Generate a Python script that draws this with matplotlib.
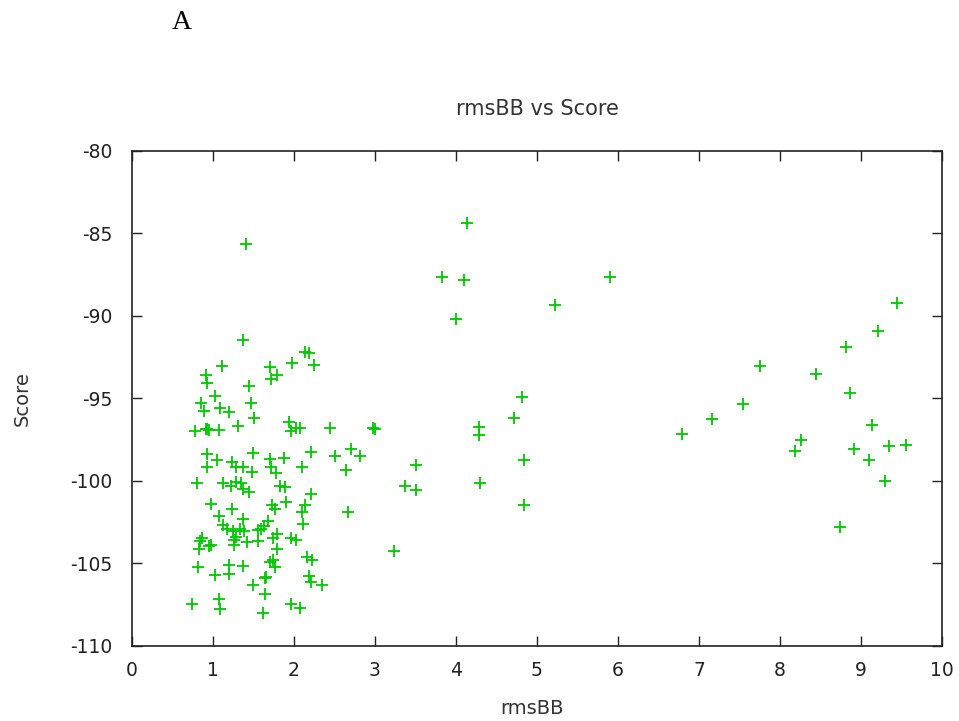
import matplotlib
matplotlib.use('Agg')
import matplotlib.pyplot as plt

# rmsBB vs Score
rms_right = [5.90, 9.44, 9.21, 8.81, 7.75, 8.45, 8.87, 7.54, 7.16, 9.14,
             6.79, 8.26, 8.19, 8.91, 9.35, 9.56, 9.10, 9.29, 8.74]
score_right = [-87.66, -89.24, -90.90, -91.91, -93.05, -93.55, -94.70, -95.37, -96.28, -96.61,
               -97.17, -97.54, -98.19, -98.08, -97.92, -97.84, -98.77, -100.01, -102.83]

rms_mid = [4.13, 3.83, 4.10, 5.22, 4.00, 4.82, 4.72, 2.98, 3.00, 4.28,
           4.28, 2.71, 2.82, 4.84, 3.51, 3.37, 3.51, 4.30, 4.84, 3.24]
score_mid = [-84.35, -87.66, -87.83, -89.33, -90.21, -94.95, -96.20, -96.79, -96.84, -96.77,
             -97.21, -98.10, -98.51, -98.75, -99.04, -100.33, -100.59, -100.16, -101.50, -104.25]

rms_left = [1.41, 1.37, 2.14, 2.19, 1.11, 1.70, 1.98, 2.25, 0.91, 1.79,
            1.72, 0.93, 1.44, 1.03, 0.85, 1.47, 0.89, 1.09, 1.20, 1.51,
            1.94, 1.31, 0.91, 0.93, 0.95, 0.78, 1.07, 1.96, 2.02, 2.07,
            2.44, 0.93, 1.05, 1.23, 1.29, 1.37, 0.93, 1.50, 1.48, 1.70,
            1.88, 1.72, 1.78, 2.10, 2.21, 2.51, 2.64]
score_left = [-85.66, -91.47, -92.19, -92.23, -93.05, -93.13, -92.86, -92.97, -93.59, -93.59,
              -93.85, -94.10, -94.26, -94.87, -95.27, -95.27, -95.76, -95.61, -95.86, -96.18,
              -96.43, -96.69, -96.85, -96.89, -96.93, -96.99, -96.93, -96.99, -96.83, -96.83,
              -96.83, -98.40, -98.75, -98.85, -99.16, -99.16, -99.16, -98.31, -99.46, -98.71,
              -98.65, -99.16, -99.52, -99.16, -98.25, -98.51, -99.36]

rms_low = [0.80, 1.12, 1.22, 1.28, 1.34, 1.37, 1.44, 1.83, 1.89, 2.21,
           0.97, 1.23, 1.73, 1.76, 1.90, 2.13, 2.10, 2.67, 1.07, 1.37,
           1.68, 1.12, 1.17, 1.25, 1.33, 1.38, 1.28, 1.26, 1.55, 1.59,
           1.63, 1.55, 1.42, 1.74, 1.79, 1.96, 2.03, 2.11, 0.87, 0.84,
           0.83, 0.95, 0.98, 1.26, 1.79, 1.74, 1.70, 1.76, 2.16, 2.22,
           0.82, 1.20, 1.37, 1.20, 1.02, 1.66, 1.64, 2.19, 2.21, 2.34,
           1.49, 1.64, 0.74, 1.07, 1.09, 1.96, 2.07, 1.62]
score_low = [-100.16, -100.12, -100.31, -100.07, -100.13, -100.53, -100.67, -100.31, -100.41, -100.81,
             -101.42, -101.74, -101.48, -101.74, -101.32, -101.48, -101.92, -101.92, -102.15, -102.35,
             -102.43, -102.69, -102.96, -103.04, -102.96, -103.06, -103.40, -103.60, -103.00, -102.94,
             -102.75, -103.66, -103.71, -103.50, -103.24, -103.50, -103.60, -102.65, -103.50, -103.65,
             -104.15, -103.97, -103.91, -103.91, -104.15, -104.82, -104.96, -105.22, -104.65, -104.82,
             -105.24, -105.12, -105.16, -105.67, -105.75, -105.83, -105.93, -105.79, -106.13, -106.33,
             -106.33, -106.88, -107.49, -107.20, -107.81, -107.49, -107.71, -108.05]

rms = rms_left + rms_low + rms_mid + rms_right
score = score_left + score_low + score_mid + score_right

xticks = list(range(0, 11))
yticks = [-110, -105, -100, -95, -90, -85, -80]

plt.rcParams['font.family'] = ['DejaVu Sans']
plt.rcParams['axes.unicode_minus'] = False

fig = plt.figure(figsize=(9.59, 7.21), dpi=100)
ax = fig.add_axes([0.1376, 0.1047, 0.8447, 0.6859])

ax.plot(rms, score, linestyle='none', marker='+', color='#00c800',
        markersize=8, markeredgewidth=1.3)

ax.set_xlim(0, 10)
ax.set_ylim(-110, -80)
ax.set_xticks(xticks)
ax.set_yticks(yticks)
ax.tick_params(direction='in', length=7, width=1, top=True, right=True,
               labelsize=13.5, colors='#222222')
ax.tick_params(axis='y', pad=14)
ax.tick_params(axis='x', pad=11)
for s in ax.spines.values():
    s.set_linewidth(1.2)
    s.set_color('#222222')

ax.set_title('rmsBB vs Score', fontsize=15, color='#333333', pad=26)
ax.set_xlabel('rmsBB', fontsize=14, color='#333333')
ax.set_ylabel('Score', fontsize=14, color='#333333')
ax.xaxis.set_label_coords(0.494, -0.108)
ax.yaxis.set_label_coords(-0.124, 0.5)

fig.text(0.189, 0.986, 'A', fontsize=20, family='Liberation Serif', va='top', ha='center')

fig.savefig('out.png', dpi=100)
